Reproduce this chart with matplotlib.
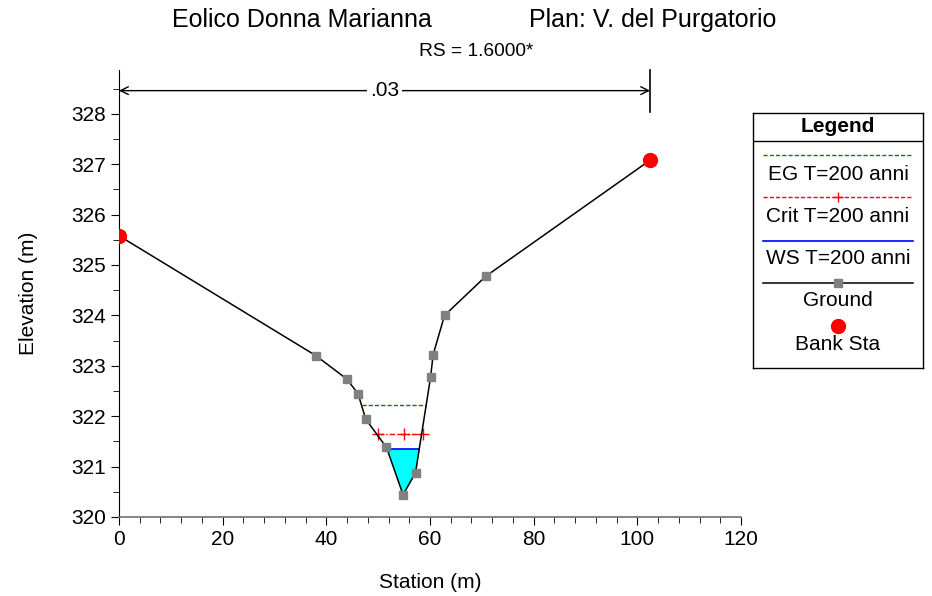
import numpy as np
import matplotlib.pyplot as plt
from matplotlib.lines import Line2D
from matplotlib.ticker import MultipleLocator

plt.rcParams['font.family'] = ['Liberation Sans', 'DejaVu Sans']

# Cross-section data
station = [0.0, 38.0, 43.9, 46.1, 47.6, 51.6, 54.8, 57.2, 60.1, 60.6, 62.8, 70.8, 102.45]
elevation = [325.58, 323.20, 322.74, 322.45, 321.94, 321.38, 320.44, 320.88,
             322.77, 323.22, 324.00, 324.78, 327.08]
bank_sta = [0.0, 102.45]
bank_elev = [325.58, 327.08]

eg_x = [46.8, 59.2]
eg_elev = 322.23
crit_x = [49.9, 54.9, 58.6]
crit_elev = 321.64
ws_x = [51.8, 57.9]
ws_elev = 321.35
manning_n = '.03'

fig = plt.figure(figsize=(9.32, 5.96), dpi=100)
ax = fig.add_axes([0.1277, 0.1326, 0.6674, 0.75])

# water fill below WS
xf = np.linspace(ws_x[0], ws_x[1], 300)
gf = np.interp(xf, station, elevation)
ax.fill_between(xf, gf, ws_elev, where=gf <= ws_elev, color='cyan', lw=0)

ax.plot(eg_x, [eg_elev] * 2, color='green', ls=(0, (3, 1.5)), lw=1)
ax.plot(crit_x, [crit_elev] * 3, color='red', ls=(0, (4, 1.5, 1, 1.5)), lw=1,
        marker='+', ms=8, mew=1)
ax.plot(ws_x, [ws_elev] * 2, color='blue', lw=1.2)
ax.plot(station, elevation, color='black', lw=1.1, marker='s', ms=6,
        mfc='#808080', mec='#808080', zorder=3)
ax.plot(bank_sta, bank_elev, ls='none', marker='o', ms=10, color='red', zorder=4)

ax.set_xlim(0, 120)
ax.set_ylim(320, 328.87)
ax.xaxis.set_major_locator(MultipleLocator(20))
ax.xaxis.set_minor_locator(MultipleLocator(4))
ax.yaxis.set_major_locator(MultipleLocator(1))
ax.yaxis.set_minor_locator(MultipleLocator(0.5))
ax.tick_params(which='major', length=6, labelsize=15, direction='out')
ax.tick_params(which='minor', length=4, direction='out')
ax.spines['top'].set_visible(False)
ax.spines['right'].set_visible(False)
ax.spines['bottom'].set_color('#707070')
ax.spines['bottom'].set_linewidth(1.2)
ax.set_xlabel('Station (m)', fontsize=15, labelpad=17)
ax.set_ylabel('Elevation (m)', fontsize=15, labelpad=24)

# Manning's n dimension line
ax.plot([bank_sta[1]] * 2, [328.04, 328.87], color='black', lw=1.2, clip_on=False)
ax.annotate('', xy=(bank_sta[0], 328.46), xytext=(bank_sta[1], 328.46),
            arrowprops=dict(arrowstyle='<->', color='black', lw=1,
                            shrinkA=0, shrinkB=0, mutation_scale=14),
            annotation_clip=False)
ax.text((bank_sta[0] + bank_sta[1]) / 2, 328.46, manning_n, fontsize=15,
        ha='center', va='center',
        bbox=dict(facecolor='white', edgecolor='none', pad=2))

fig.text(172 / 932, 0.966, 'Eolico Donna Marianna', fontsize=18, ha='left', va='center')
fig.text(776 / 932, 0.966, 'Plan: V. del Purgatorio', fontsize=18, ha='right', va='center')
fig.text(476 / 932, 0.913, 'RS = 1.6000*', fontsize=13.8, ha='center', va='center')

# Legend box
lg = fig.add_axes([753 / 932, 1 - 368 / 596, 170 / 932, 255 / 596])
lg.set_xlim(0, 170)
lg.set_ylim(255, 0)
lg.set_xticks([])
lg.set_yticks([])
for s in lg.spines.values():
    s.set_linewidth(1)
lg.axhline(28, color='black', lw=1)
lg.text(85, 13, 'Legend', fontsize=15, fontweight='bold', ha='center', va='center')
lg.add_line(Line2D([10, 160], [42, 42], color='green', ls=(0, (3, 1.5)), lw=1))
lg.text(85, 61, 'EG T=200 anni', fontsize=15, ha='center', va='center')
lg.add_line(Line2D([10, 160], [84, 84], color='red', ls=(0, (3, 1.5)), lw=1))
lg.plot([85], [84], marker='+', color='red', ms=7)
lg.text(85, 104, 'Crit T=200 anni', fontsize=15, ha='center', va='center')
lg.add_line(Line2D([10, 160], [128, 128], color='blue', lw=1.2))
lg.text(85, 146, 'WS T=200 anni', fontsize=15, ha='center', va='center')
lg.add_line(Line2D([10, 160], [170, 170], color='black', lw=1.1))
lg.plot([85], [170], marker='s', ms=6, color='#808080')
lg.text(85, 188, 'Ground', fontsize=15, ha='center', va='center')
lg.plot([85], [213], marker='o', ms=10, color='red')
lg.text(85, 232, 'Bank Sta', fontsize=15, ha='center', va='center')

plt.savefig('out.png', dpi=100)
